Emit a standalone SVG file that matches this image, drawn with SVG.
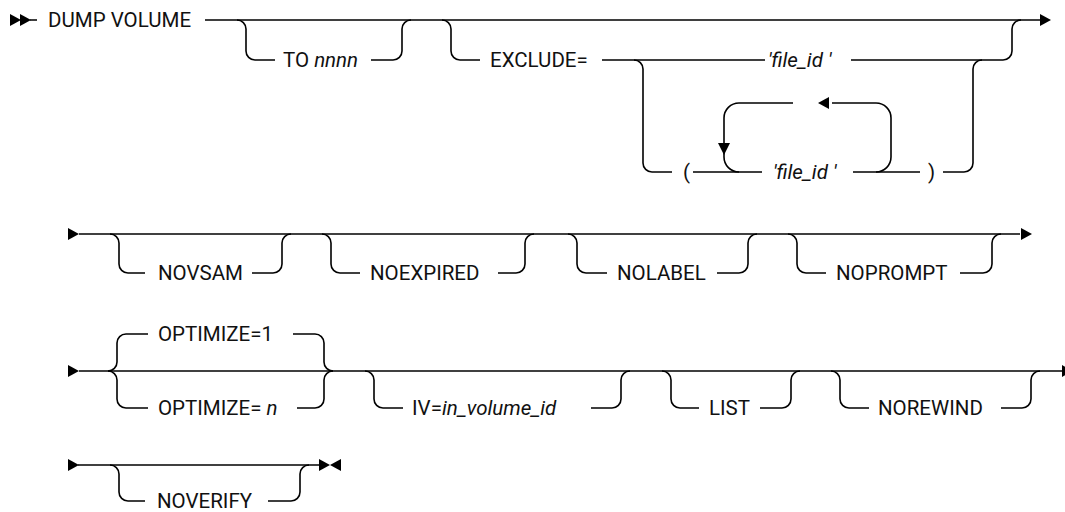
<svg xmlns="http://www.w3.org/2000/svg" width="1065" height="512" viewBox="0 0 1065 512">
<style>
.l{fill:none;stroke:#000;stroke-width:1.6}
.a{fill:#000;stroke:none}
.t{font-family:Roboto,"Liberation Sans",Arial,sans-serif;font-size:20.5px;font-weight:400;fill:#111}
.i{font-style:italic}
</style>
<defs>
<polygon id="ar" class="a" points="0,-6 11,0 0,6"/>
<polygon id="al" class="a" points="0,0 11,-6 11,6"/>
</defs>
<rect width="1065" height="512" fill="#fff"/>
<g id="connectors">
<!-- row 1 -->
<use href="#ar" x="10" y="20"/>
<use href="#ar" x="20" y="20"/>
<path class="l" d="M30,20 H37 M205,20 H1040"/>
<use href="#ar" x="1040" y="20"/>
<path class="l" d="M237,20 a9,9 0 0 1 9,9 V51 a9,9 0 0 0 9,9 H275 M371,60 H393 a9,9 0 0 0 9,-9 V29 a9,9 0 0 1 9,-9"/>
<path class="l" d="M442,20 a9,9 0 0 1 9,9 V51 a9,9 0 0 0 9,9 H480"/>
<path class="l" d="M602,60 H765 M851,60 H1003 a9,9 0 0 0 9,-9 V29 a9,9 0 0 1 9,-9"/>
<path class="l" d="M634,60 a9,9 0 0 1 9,9 V163 a9,9 0 0 0 9,9 H672"/>
<path class="l" d="M693,172 H762 M853,172 H920 M943,172 H964 a9,9 0 0 0 9,-9 V69 a9,9 0 0 1 9,-9"/>
<path class="l" d="M793,103 H739 a15,15 0 0 0 -15,15 V157 a15,15 0 0 0 15,15"/>
<polygon class="a" points="718,143 730,143 724,155"/>
<path class="l" d="M832,103 H876 a15,15 0 0 1 15,15 V157 a15,15 0 0 1 -15,15"/>
<use href="#al" x="818" y="103"/>
<!-- row 2 -->
<use href="#ar" x="68" y="234"/>
<path class="l" d="M79,234 H1020"/>
<use href="#ar" x="1021" y="234"/>
<path class="l" d="M110,234 a9,9 0 0 1 9,9 V264 a9,9 0 0 0 9,9 H145 M252,273 H273 a9,9 0 0 0 9,-9 V243 a9,9 0 0 1 9,-9"/>
<path class="l" d="M322,234 a9,9 0 0 1 9,9 V264 a9,9 0 0 0 9,9 H360 M498,273 H516 a9,9 0 0 0 9,-9 V243 a9,9 0 0 1 9,-9"/>
<path class="l" d="M568,234 a9,9 0 0 1 9,9 V264 a9,9 0 0 0 9,9 H607 M717,273 H739 a9,9 0 0 0 9,-9 V243 a9,9 0 0 1 9,-9"/>
<path class="l" d="M788,234 a9,9 0 0 1 9,9 V264 a9,9 0 0 0 9,9 H826 M960,273 H983 a9,9 0 0 0 9,-9 V243 a9,9 0 0 1 9,-9"/>
<!-- row 3 -->
<use href="#ar" x="68" y="371"/>
<path class="l" d="M79,371 H1062"/>
<use href="#ar" x="1062" y="371"/>
<path class="l" d="M108,371 a9,9 0 0 0 9,-9 V343 a9,9 0 0 1 9,-9 H148 M293,334 H315 a9,9 0 0 1 9,9 V362 a9,9 0 0 0 9,9"/>
<path class="l" d="M108,371 a9,9 0 0 1 9,9 V399 a9,9 0 0 0 9,9 H148 M297,408 H315 a9,9 0 0 0 9,-9 V380 a9,9 0 0 1 9,-9"/>
<path class="l" d="M365,371 a9,9 0 0 1 9,9 V399 a9,9 0 0 0 9,9 H403 M591,408 H612 a9,9 0 0 0 9,-9 V380 a9,9 0 0 1 9,-9"/>
<path class="l" d="M662,371 a9,9 0 0 1 9,9 V399 a9,9 0 0 0 9,9 H699 M760,408 H782 a9,9 0 0 0 9,-9 V380 a9,9 0 0 1 9,-9"/>
<path class="l" d="M831,371 a9,9 0 0 1 9,9 V399 a9,9 0 0 0 9,9 H869 M1001,408 H1022 a9,9 0 0 0 9,-9 V380 a9,9 0 0 1 9,-9"/>
<!-- row 4 -->
<use href="#ar" x="68" y="465"/>
<path class="l" d="M78,465 H319"/>
<use href="#ar" x="319" y="465"/>
<use href="#al" x="330" y="465"/>
<path class="l" d="M110,465 a9,9 0 0 1 9,9 V492 a9,9 0 0 0 9,9 H145 M268,501 H291 a9,9 0 0 0 9,-9 V474 a9,9 0 0 1 9,-9"/>
</g>
<g id="n-dump"><text class="t" x="48" y="27">DUMP VOLUME</text></g>
<g id="n-to"><text class="t" x="283" y="67">TO <tspan class="i">nnnn</tspan></text></g>
<g id="n-exclude"><text class="t" x="490" y="67">EXCLUDE=</text></g>
<g id="n-fileid1"><text class="t i" x="768" y="67">'file_id '</text></g>
<g id="n-lparen"><text class="t" x="683" y="179">(</text></g>
<g id="n-fileid2"><text class="t i" x="773" y="179">'file_id '</text></g>
<g id="n-rparen"><text class="t" x="928" y="179">)</text></g>
<g id="n-novsam"><text class="t" x="158" y="280">NOVSAM</text></g>
<g id="n-noexpired"><text class="t" x="370" y="280">NOEXPIRED</text></g>
<g id="n-nolabel"><text class="t" x="617" y="280">NOLABEL</text></g>
<g id="n-noprompt"><text class="t" x="836" y="280">NOPROMPT</text></g>
<g id="n-opt1"><text class="t" x="158" y="341">OPTIMIZE=1</text></g>
<g id="n-optn"><text class="t" x="158" y="415">OPTIMIZE= <tspan class="i">n</tspan></text></g>
<g id="n-iv"><text class="t" x="412" y="415">IV=<tspan class="i">in_volume_id</tspan></text></g>
<g id="n-list"><text class="t" x="709" y="415">LIST</text></g>
<g id="n-norewind"><text class="t" x="878" y="415">NOREWIND</text></g>
<g id="n-noverify"><text class="t" x="157" y="508">NOVERIFY</text></g>
</svg>
